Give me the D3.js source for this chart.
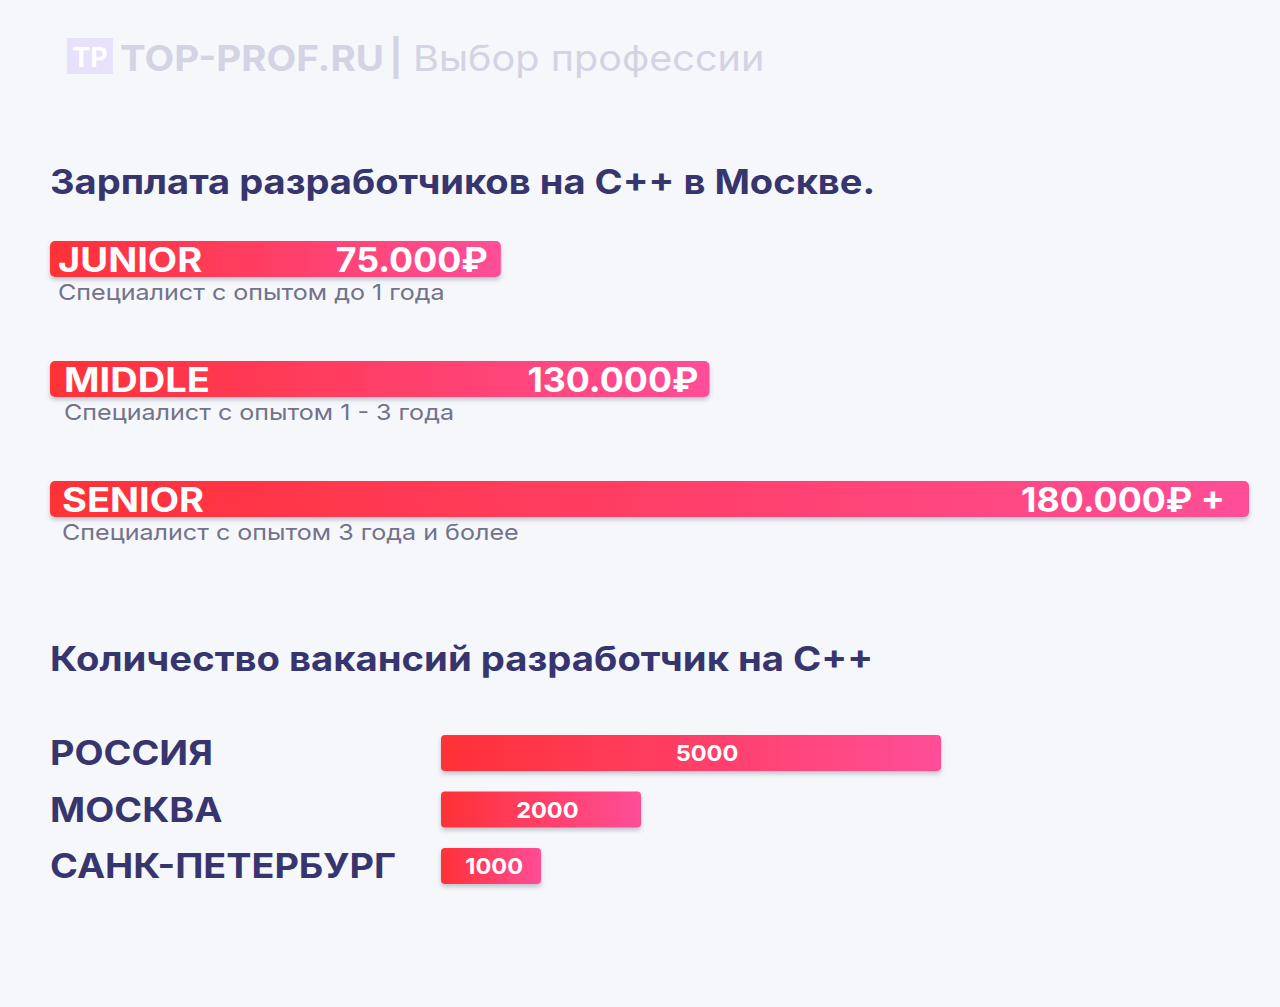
<!DOCTYPE html>
<html>
<head>
<meta charset="utf-8">
<script src="https://cdn.jsdelivr.net/npm/d3@7"></script>
<style>
  body { margin: 0; background: #f5f7fb; }
  svg { display: block; font-family: Inter, "Noto Sans", sans-serif; }
</style>
</head>
<body>
<svg id="chart"></svg>
<script>
// salary levels
var levels = ['JUNIOR', 'MIDDLE', 'SENIOR'];
var salaries = ['75.000₽', '130.000₽', '180.000₽ +'];
var salaryShare = [37.6, 55, 100]; // bar length in % of the longest
var notes = ['Специалист с опытом до 1 года', 'Специалист с опытом 1 - 3 года', 'Специалист с опытом 3 года и более'];

// vacancies
var regions = ['РОССИЯ', 'МОСКВА', 'САНК-ПЕТЕРБУРГ'];
var vacancies = [5000, 2000, 1000];

var W = 1280, H = 1007;
var navy = '#37356e';

// the original font is wider than Inter, so stretch text a bit
function widen(sel, k) {
    sel.each(function () {
        var len = this.getComputedTextLength();
        d3.select(this).attr('textLength', len * k).attr('lengthAdjust', 'spacingAndGlyphs');
    });
}

var svg = d3.select('#chart').attr('width', W).attr('height', H);

var defs = svg.append('defs');
var grad = defs.append('linearGradient').attr('id', 'barGrad')
    .attr('x1', '0%').attr('x2', '100%').attr('y1', '0%').attr('y2', '0%');
grad.append('stop').attr('offset', '0%').attr('stop-color', '#ff3036');
grad.append('stop').attr('offset', '100%').attr('stop-color', '#ff4e98');

var shadow = defs.append('filter').attr('id', 'shadow')
    .attr('x', '-5%').attr('y', '-30%').attr('width', '110%').attr('height', '170%');
shadow.append('feDropShadow').attr('dx', 0).attr('dy', 3).attr('stdDeviation', 2)
    .attr('flood-color', '#50506a').attr('flood-opacity', 0.3);

// logo
svg.append('rect').attr('x', 67).attr('y', 38).attr('width', 46).attr('height', 36)
    .attr('fill', '#e8e1fb');
svg.append('text').attr('x', 90).attr('y', 67).attr('text-anchor', 'middle')
    .attr('fill', '#ffffff').attr('font-weight', 700).attr('font-size', 27).text('TP');
svg.append('text').attr('x', 120).attr('y', 71).attr('font-size', 36).attr('font-weight', 700)
    .attr('fill', '#d3d3e3').text('TOP-PROF.RU').call(widen, 1.07);
svg.append('text').attr('x', 396).attr('y', 71).attr('font-size', 36).attr('font-weight', 700)
    .attr('text-anchor', 'middle').attr('fill', '#d3d3e3').text('|');
svg.append('text').attr('x', 413).attr('y', 71).attr('font-size', 36).attr('font-weight', 400)
    .attr('fill', '#d3d3e3').text('Выбор профессии').call(widen, 1.1);

// salary chart
svg.append('text').attr('x', 50).attr('y', 194).attr('font-size', 34).attr('font-weight', 700)
    .attr('fill', navy).text('Зарплата разработчиков на С++ в Москве.').call(widen, 1.12);

var x1 = d3.scaleLinear().domain([0, 100]).range([50, 1249]);
var y1 = d3.scalePoint().domain(levels).range([241, 481]);
var barH = 36;

var sal = svg.append('g').selectAll('g').data(levels).enter().append('g');

sal.append('rect')
    .attr('x', x1(0))
    .attr('y', function (d) { return y1(d); })
    .attr('width', function (d, i) { return x1(salaryShare[i]) - x1(0); })
    .attr('height', barH)
    .attr('rx', 5)
    .attr('fill', 'url(#barGrad)')
    .attr('filter', 'url(#shadow)');

var pad = [8, 14, 12];
sal.append('text')
    .attr('x', function (d, i) { return x1(0) + pad[i]; })
    .attr('y', function (d) { return y1(d) + 31; })
    .attr('font-size', 34).attr('font-weight', 700).attr('fill', '#fff')
    .text(function (d) { return d; })
    .call(widen, 1.12);

sal.append('text')
    .attr('x', function (d, i) { return x1(salaryShare[i]) - [13, 11, 24][i]; })
    .attr('y', function (d) { return y1(d) + 31; })
    .attr('text-anchor', 'end')
    .attr('font-size', 34).attr('font-weight', 700).attr('fill', '#fff')
    .text(function (d, i) { return salaries[i]; })
    .call(widen, 1.05);

sal.append('text')
    .attr('x', function (d, i) { return x1(0) + pad[i]; })
    .attr('y', function (d) { return y1(d) + 59; })
    .attr('font-size', 22).attr('fill', '#72728a')
    .text(function (d, i) { return notes[i]; })
    .call(widen, 1.14);

// vacancies chart
svg.append('text').attr('x', 50).attr('y', 671).attr('font-size', 34).attr('font-weight', 700)
    .attr('fill', navy).text('Количество вакансий разработчик на С++').call(widen, 1.125);

var x2 = d3.scaleLinear().domain([0, 5000]).range([441, 941]);
var y2 = d3.scaleBand().domain(regions).range([735, 884]).paddingInner(0.36).paddingOuter(0);

var vac = svg.append('g').selectAll('g').data(regions).enter().append('g');

vac.append('text')
    .attr('x', 50)
    .attr('y', function (d) { return y2(d) + y2.bandwidth() / 2 + 12; })
    .attr('font-size', 34).attr('font-weight', 700).attr('fill', navy)
    .text(function (d) { return d; })
    .call(widen, 1.11);

vac.append('rect')
    .attr('x', x2(0))
    .attr('y', function (d) { return y2(d); })
    .attr('width', function (d, i) { return x2(vacancies[i]) - x2(0); })
    .attr('height', y2.bandwidth())
    .attr('rx', 4)
    .attr('fill', 'url(#barGrad)')
    .attr('filter', 'url(#shadow)');

vac.append('text')
    .attr('x', function (d, i) { return x2(0) + (x2(vacancies[i]) - x2(0)) * 0.532; })
    .attr('y', function (d) { return y2(d) + y2.bandwidth() / 2 + 8; })
    .attr('text-anchor', 'middle')
    .attr('font-size', 22).attr('font-weight', 700).attr('fill', '#fff')
    .text(function (d, i) { return vacancies[i]; })
    .call(widen, 1.07);
</script>
</body>
</html>
